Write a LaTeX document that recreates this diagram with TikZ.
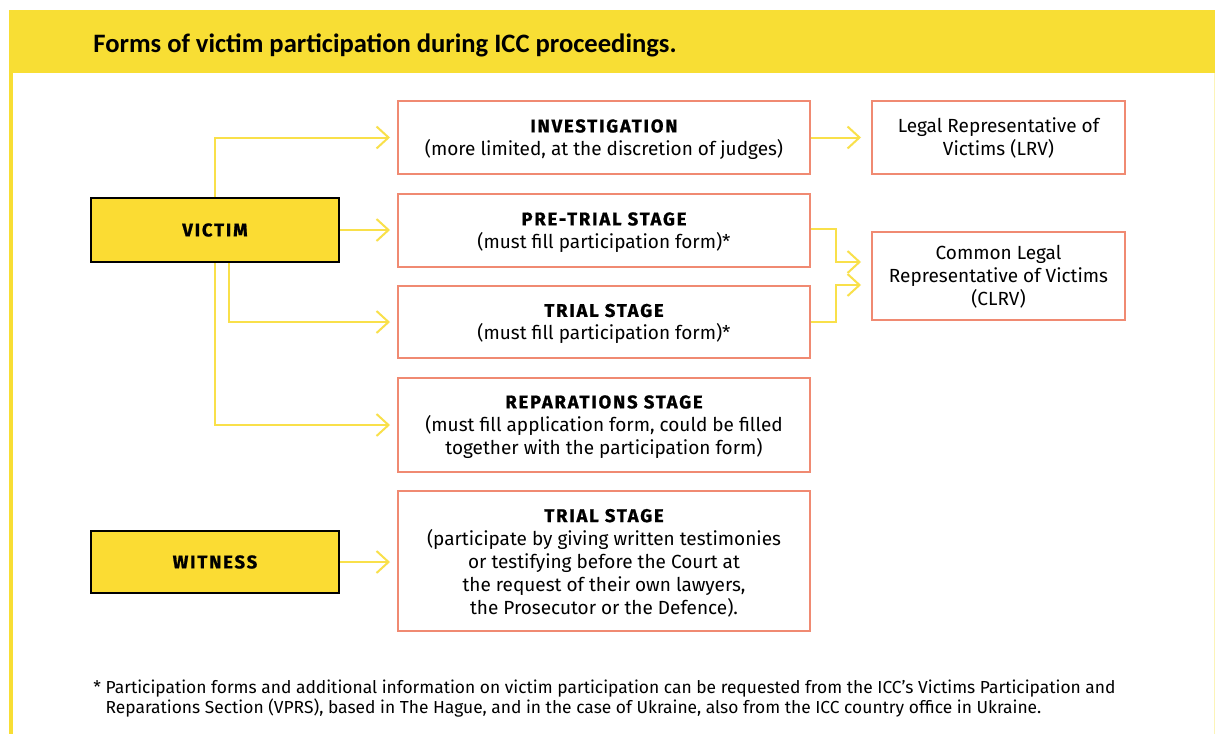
\documentclass[tikz,border=0pt]{standalone}
\usepackage{fontspec}
\setmainfont{Fira Sans}
\newfontfamily\titlefont{Carlito}
\newfontfamily\headfont[LetterSpace=10,FakeBold=1]{Fira Sans}
\usetikzlibrary{arrows.meta}

\definecolor{iccyellow}{HTML}{F8DE34}
\definecolor{boxyellow}{HTML}{FBDC33}
\definecolor{stageline}{HTML}{F08A72}
\definecolor{arrowyellow}{HTML}{F9E04A}

\newcommand{\partyname}[1]{{\headfont\bfseries\fontsize{9.2}{11.5}\selectfont #1}}
\newcommand{\stagehead}[1]{\rule{0pt}{8.4pt}\partyname{#1}}

\begin{document}
\begin{tikzpicture}[x=0.5pt,y=-0.5pt,
    stage/.style={draw=stageline, line width=1pt, fill=white, minimum width=206pt,
        align=center, inner sep=2pt, font=\fontsize{9.5}{11.5}\selectfont},
    rep/.style={stage, minimum width=126.5pt},
    party/.style={draw=black, line width=1pt, fill=boxyellow, minimum width=124pt},
    flow/.style={draw=arrowyellow, line width=1pt,
        -{Straight Barb[length=6pt,width=11pt]}, shorten >=3.5pt}]

        \useasboundingbox (0,0) rectangle (1215,734);
        \fill[white] (0,0) rectangle (1215,734);

        % frame and title band
        \fill[iccyellow] (9,10) rectangle (1215,73);
        \fill[iccyellow] (9,73) rectangle (13,734);
        \draw[iccyellow!35, line width=0.5pt] (1214.5,73) -- (1214.5,734);
        \node[anchor=base west, inner sep=0pt, font=\titlefont\fontsize{13.3}{15}\selectfont\bfseries] (title) at (93,52) {Forms of victim participation during ICC proceedings.};

        % who takes part
        \node[party, minimum height=32pt] (victim) at (215,230) {\partyname{VICTIM}};
        \node[party, minimum height=31pt] (witness) at (215,562) {\partyname{WITNESS}};

        % stages
        \node[stage, minimum height=36.5pt] (invest) at (604,137.5) {\stagehead{INVESTIGATION}\\(more limited, at the discretion of judges)};
        \node[stage, minimum height=36.5pt] (pretrial) at (604,230.5) {\stagehead{PRE-TRIAL STAGE}\\(must fill participation form)*};
        \node[stage, minimum height=36pt] (trial) at (604,322) {\stagehead{TRIAL STAGE}\\(must fill participation form)*};
        \node[stage, minimum height=47pt] (repar) at (604,425) {\stagehead{REPARATIONS STAGE}\\(must fill application form, could be filled\\together with the participation form)};
        \node[stage, minimum height=70pt] (wtrial) at (604,561) {\stagehead{TRIAL STAGE}\\(participate by giving written testimonies\\or testifying before the Court at\\the request of their own lawyers,\\the Prosecutor or the Defence).};

        % representatives
        \node[rep, minimum height=36.5pt] (lrv) at (998.5,137.5) {\rule{0pt}{8pt}Legal Representative of\\Victims (LRV)};
        \node[rep, minimum height=44pt] (clrv) at (998.5,276) {\rule{0pt}{8pt}Common Legal\\Representative of Victims\\(CLRV)};

        \draw[flow] (victim.north) |- (invest.west);
        \draw[flow] (victim.east) -- (victim.east -| pretrial.west);
        \draw[flow] ([xshift=7pt]victim.south) |- (trial.west);
        \draw[flow] (victim.south) |- (repar.west);
        \draw[flow] (witness.east) -- (witness.east -| wtrial.west);

        \draw[flow, shorten >=5pt] (invest.east) -- (invest.east -| lrv.west);
        \draw[flow, shorten >=5pt] ([yshift=1pt]pretrial.east) -- ++(12.5pt,0) |- ([yshift=7pt]clrv.west);
        \draw[flow, shorten >=5pt] (trial.east) -- ++(12.5pt,0) |- ([yshift=-4.5pt]clrv.west);

        \node[anchor=base west, inner sep=0pt, align=left, font=\fontsize{8.7}{10}\selectfont] (note) at (93,713) {* Participation forms and additional information on victim participation can be requested from the ICC’s Victims Participation and\\\hphantom{*} Reparations Section (VPRS), based in The Hague, and in the case of Ukraine, also from the ICC country office in Ukraine.};

    \end{tikzpicture}
\end{document}
